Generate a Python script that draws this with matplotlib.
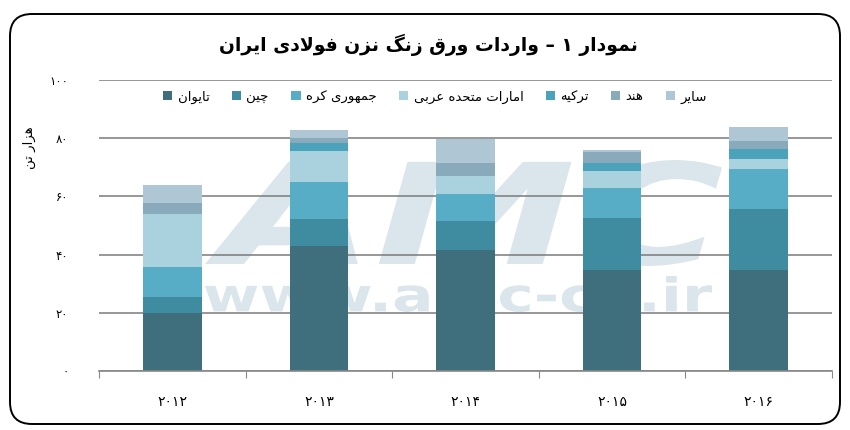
import matplotlib
matplotlib.use("Agg")
import matplotlib.pyplot as plt
import numpy as np
from matplotlib.patches import FancyBboxPatch, PathPatch, Rectangle
from matplotlib.textpath import TextPath
from matplotlib.font_manager import FontProperties
from matplotlib.transforms import Affine2D

# ---------------- data ----------------
years = ['۲۰۱۲', '۲۰۱۳', '۲۰۱۴', '۲۰۱۵', '۲۰۱۶']
series_names = ['تایوان', 'چین', 'جمهوری کره', 'امارات متحده عربی', 'ترکیه', 'هند', 'سایر']
taiwan = [19.9, 43.1, 41.7, 34.8, 34.8]
china = [5.7, 9.3, 9.8, 17.9, 21.0]
korea = [10.0, 12.5, 9.2, 10.3, 13.5]
uae = [18.2, 10.7, 6.3, 5.7, 3.5]
turkey = [0.0, 2.9, 0.0, 2.7, 3.4]
india = [4.0, 1.7, 4.6, 3.7, 2.9]
others = [6.1, 2.7, 8.1, 0.9, 4.9]
y_ticks = [0, 20, 40, 60, 80, 100]
y_tick_labels = ['۰', '۲۰', '۴۰', '۶۰', '۸۰', '۱۰۰']
title = 'نمودار ۱ – واردات ورق زنگ نزن فولادی ایران'
y_label = 'هزار تن'

colors = ['#3f6f7d', '#3f8b9f', '#56adc5', '#a9d2de', '#4aa2bb', '#88aabb', '#afc7d4']

# ---------------- simple Arabic/Persian shaping ----------------
FORMS = {
    '\u0627': ('\uFE8D', '\uFE8E', None, None),
    '\u0628': ('\uFE8F', '\uFE90', '\uFE91', '\uFE92'),
    '\u062A': ('\uFE95', '\uFE96', '\uFE97', '\uFE98'),
    '\u062C': ('\uFE9D', '\uFE9E', '\uFE9F', '\uFEA0'),
    '\u062D': ('\uFEA1', '\uFEA2', '\uFEA3', '\uFEA4'),
    '\u062F': ('\uFEA9', '\uFEAA', None, None),
    '\u0631': ('\uFEAD', '\uFEAE', None, None),
    '\u0632': ('\uFEAF', '\uFEB0', None, None),
    '\u0633': ('\uFEB1', '\uFEB2', '\uFEB3', '\uFEB4'),
    '\u0639': ('\uFEC9', '\uFECA', '\uFECB', '\uFECC'),
    '\u0641': ('\uFED1', '\uFED2', '\uFED3', '\uFED4'),
    '\u0642': ('\uFED5', '\uFED6', '\uFED7', '\uFED8'),
    '\u0644': ('\uFEDD', '\uFEDE', '\uFEDF', '\uFEE0'),
    '\u0645': ('\uFEE1', '\uFEE2', '\uFEE3', '\uFEE4'),
    '\u0646': ('\uFEE5', '\uFEE6', '\uFEE7', '\uFEE8'),
    '\u0647': ('\uFEE9', '\uFEEA', '\uFEEB', '\uFEEC'),
    '\u0648': ('\uFEED', '\uFEEE', None, None),
    '\u0686': ('\uFB7A', '\uFB7B', '\uFB7C', '\uFB7D'),
    '\u06A9': ('\uFB8E', '\uFB8F', '\uFB90', '\uFB91'),
    '\u06AF': ('\uFB92', '\uFB93', '\uFB94', '\uFB95'),
    '\u06CC': ('\uFBFC', '\uFBFD', '\uFBFE', '\uFBFF'),
}


def _dual(c):
    return c in FORMS and FORMS[c][2] is not None


def shape(s):
    out = []
    i = 0
    while i < len(s):
        c = s[i]
        if c not in FORMS:
            out.append(c)
            i += 1
            continue
        jp = i > 0 and _dual(s[i - 1])
        if c == '\u0644' and i + 1 < len(s) and s[i + 1] == '\u0627':
            out.append('\uFEFC' if jp else '\uFEFB')
            i += 2
            continue
        jn = _dual(c) and i + 1 < len(s) and s[i + 1] in FORMS
        f = FORMS[c]
        if jp and jn:
            out.append(f[3])
        elif jp:
            out.append(f[1])
        elif jn:
            out.append(f[2])
        else:
            out.append(f[0])
        i += 1
    return ''.join(reversed(out))


plt.rcParams['font.family'] = ['DejaVu Sans']

W, H = 850, 430
fig = plt.figure(figsize=(W / 100, H / 100), dpi=100)
px = Affine2D().scale(1 / W, 1 / H) + fig.transFigure

# rounded frame
frame = FancyBboxPatch((10, 6), 830, 410, boxstyle="round,pad=0,rounding_size=22",
                       transform=px, facecolor='none', edgecolor='black', lw=1.4, zorder=5)
fig.patches.append(frame)

ax_l, ax_r, ax_t, ax_b = 99, 832, 80, 371
ax = fig.add_axes([ax_l / W, 1 - ax_b / H, (ax_r - ax_l) / W, (ax_b - ax_t) / H])
ax.patch.set_alpha(0)

# watermark
def watermark(text, x0, y0, x1, y1, italic):
    fp = FontProperties(family='DejaVu Sans', weight='bold', style='oblique' if italic else 'normal')
    tp = TextPath((0, 0), text, size=1, prop=fp)
    bb = tp.get_extents()
    tr = (Affine2D().translate(-bb.x0, -bb.y0)
          .scale((x1 - x0) / bb.width, (y1 - y0) / bb.height)
          .translate(x0, H - y1)) + px
    p = PathPatch(tp, transform=tr, facecolor='#dae6eb', edgecolor='none', zorder=0.2, clip_on=False)
    ax.add_patch(p)

watermark('AMC', 205, 160, 722, 266, True)
watermark('www.amc-co.ir', 205, 276, 712, 312, False)

x = np.arange(len(years))
stack = [taiwan, china, korea, uae, turkey, india, others]
bottom = np.zeros(len(years))
handles = []
for vals, col, name in zip(stack, colors, series_names):
    b = ax.bar(x, vals, width=0.40, bottom=bottom, color=col, zorder=2, linewidth=0)
    bottom += np.array(vals)
    handles.append(Rectangle((0, 0), 1, 1, facecolor=col, edgecolor='none'))

ax.set_xlim(-0.5, len(years) - 0.5)
ax.set_ylim(0, 100)
ax.set_yticks(y_ticks)
ax.set_yticklabels(y_tick_labels, fontsize=8.5)
ax.tick_params(axis='y', length=0, pad=22)
ax.yaxis.grid(True, color='#7a7a7a', lw=1.1)
ax.set_axisbelow(True)

ax.set_xticks(np.arange(-0.5, len(years), 1.0))
ax.set_xticklabels([])
ax.set_xticks(x, minor=True)
ax.set_xticklabels(years, minor=True, fontsize=10)
ax.tick_params(axis='x', which='major', length=5, color='#888888', direction='out')
ax.tick_params(axis='x', which='minor', length=0, pad=17)

for s in ['top', 'right', 'left']:
    ax.spines[s].set_visible(False)
ax.spines['bottom'].set_color('#888888')
ax.spines['bottom'].set_linewidth(1.2)

ax.set_ylabel(shape(y_label), fontsize=9.5, rotation=90)
ax.yaxis.set_label_coords((36 - ax_l) / (ax_r - ax_l), (ax_b - 148) / (ax_b - ax_t))

fig.text(428 / W, 1 - 45 / H, shape(title), fontsize=13.5, fontweight='bold',
         ha='center', va='center')

fig.legend(handles, [shape(n) for n in series_names], loc='center',
           bbox_to_anchor=(435 / W, 1 - 97 / H), ncol=7, frameon=False,
           fontsize=9.5, handlelength=0.7, handleheight=0.7, handletextpad=0.4,
           columnspacing=1.7)

fig.savefig('out.png', dpi=100)
